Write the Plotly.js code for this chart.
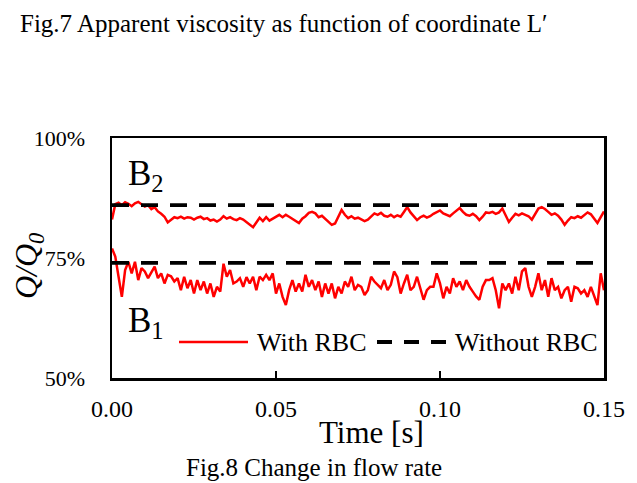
<!DOCTYPE html>
<html>
<head>
<meta charset="utf-8">
<script src="https://cdn.plot.ly/plotly-3.0.1.min.js"></script>
<style>html,body{margin:0;padding:0;background:#fff;}#chart{width:637px;height:483px;}</style>
</head>
<body>
<div id="chart"></div>
<script>
// Time sampling (s)
var timeStart = 0;
var timeStep = 0.001;

// Q/Q0 [%] with RBC, upper case B2
var withRbcB2 = [83.0,86.2,86.5,86.0,86.6,86.3,85.8,86.4,86.7,86.1,85.7,86.0,85.2,85.6,84.7,84.2,83.6,82.4,83.0,83.5,
83.3,83.6,83.2,83.5,83.4,83.0,83.4,83.6,83.1,83.3,82.8,83.0,82.6,83.0,83.7,83.2,83.5,83.1,82.9,83.3,
83.0,82.5,82.0,81.4,82.4,83.4,82.7,83.5,82.8,83.2,83.6,84.0,83.5,84.0,83.6,83.2,82.8,82.3,83.2,83.7,
84.4,84.6,84.3,83.5,83.8,83.2,82.6,81.9,82.2,83.6,85.0,84.0,83.3,83.7,83.2,83.4,83.1,82.7,83.0,83.6,
84.3,84.0,84.4,83.8,83.6,84.0,83.5,83.9,83.6,84.6,85.6,84.5,83.6,82.9,83.5,83.8,83.4,83.7,84.2,84.5,
84.9,84.3,84.0,83.7,84.3,84.8,85.4,84.6,84.0,83.8,84.2,83.7,82.9,83.6,84.5,84.4,84.6,84.2,84.5,85.3,
84.0,82.5,83.4,84.2,83.9,84.3,84.0,83.7,83.0,84.1,85.3,85.6,85.2,84.6,84.0,84.3,83.8,83.0,81.9,82.8,
83.5,83.3,83.7,83.4,84.0,84.5,84.1,83.3,82.3,83.5,84.7];

// Q/Q0 [%] with RBC, lower case B1
var withRbcB1 = [77.0,75.3,71.1,66.9,72.5,74.2,71.8,74.2,70.4,72.9,72.2,70.8,72.0,73.2,70.8,71.8,69.7,71.5,71.2,70.1,
70.8,68.3,71.1,68.7,70.4,67.6,70.4,68.3,70.1,67.6,69.7,66.9,69.0,68.0,73.8,71.1,72.5,69.7,70.1,70.8,
69.0,71.0,69.7,71.1,68.3,71.1,70.4,71.5,70.4,71.8,67.6,69.7,66.9,65.2,68.3,70.4,68.0,69.7,68.0,71.5,
69.0,70.4,68.3,70.1,66.9,69.7,67.6,69.7,66.6,69.0,67.6,70.1,69.0,71.1,68.3,69.4,69.0,67.3,68.3,71.1,
70.1,69.4,68.7,70.4,68.3,69.4,72.2,71.0,67.6,69.7,71.5,68.3,69.0,71.1,68.7,66.3,68.3,69.0,69.0,71.8,
69.7,66.6,69.0,67.6,70.8,69.0,70.1,68.3,70.4,69.0,68.0,67.0,66.3,69.0,70.4,70.4,70.8,68.3,64.5,69.7,
68.3,69.7,67.6,71.1,68.3,72.2,72.9,69.0,66.9,69.0,71.8,68.3,70.4,66.9,70.8,68.3,69.0,66.6,68.3,69.0,
65.9,69.0,68.7,67.6,68.3,66.9,69.0,66.9,65.2,71.8,68.3];

// Q/Q0 [%] without RBC (constant levels for B2 and B1)
var withoutRbcLevels = [86, 74];
var timeRange = [0, 0.15];

// Tick labels
var xTickVals = [0, 0.05, 0.10, 0.15];
var xTickText = ['0.00', '0.05', '0.10', '0.15'];
var yTickVals = [50, 75, 100];
var yTickText = ['50%', '75%', '100%'];

var serif = 'Liberation Serif, Times New Roman, serif';

var noRbcX = [timeRange[0], timeRange[1], null, timeRange[0], timeRange[1]];
var noRbcY = [withoutRbcLevels[0], withoutRbcLevels[0], null, withoutRbcLevels[1], withoutRbcLevels[1]];

var traces = [
  {type:'scatter', mode:'lines', name:'With RBC', x0:timeStart, dx:timeStep, y:withRbcB2,
   line:{color:'#ff0000', width:2.5}, showlegend:false},
  {type:'scatter', mode:'lines', name:'With RBC', x0:timeStart, dx:timeStep, y:withRbcB1,
   line:{color:'#ff0000', width:2.5}, showlegend:false},
  {type:'scatter', mode:'lines', name:'Without RBC', x:noRbcX, y:noRbcY, connectgaps:false,
   line:{color:'#000000', width:3.8, dash:'17px,12px'}, showlegend:false}
];

var layout = {
  width:637, height:483,
  margin:{l:112, r:33, t:138, b:105},
  paper_bgcolor:'#ffffff', plot_bgcolor:'#ffffff',
  font:{family:serif, color:'#000'},
  title:{text:'Fig.7 Apparent viscosity as function of coordinate L\u2032',
         font:{family:serif, size:25, color:'#000'},
         x:20/637, xanchor:'left', xref:'container',
         y:1-23/483, yanchor:'middle', yref:'container'},
  showlegend:false,
  xaxis:{range:timeRange, tickmode:'array', tickvals:xTickVals, ticktext:xTickText,
         ticks:'inside', ticklen:7, tickwidth:1.5, tickcolor:'#000',
         showline:true, mirror:true, linewidth:2.5, linecolor:'#000',
         showgrid:false, zeroline:false, ticklabelstandoff:8,
         tickfont:{family:serif, size:24, color:'#000'}},
  yaxis:{range:[50,100], tickmode:'array', tickvals:yTickVals, ticktext:yTickText,
         ticks:'', showline:true, mirror:true, linewidth:2.5, linecolor:'#000',
         showgrid:false, zeroline:false, ticklabelstandoff:20,
         tickfont:{family:serif, size:22, color:'#000'}},
  shapes:[
    {type:'line', xref:'paper', yref:'paper', x0:(179-112)/492, x1:(248-112)/492, y0:0.15, y1:0.15,
     line:{color:'#ff0000', width:2.5}},
    {type:'line', xref:'paper', yref:'paper', x0:(377-112)/492, x1:(448-112)/492, y0:0.15, y1:0.15,
     line:{color:'#000000', width:3.8, dash:'15px,12px'}}
  ],
  annotations:[
    {text:'With RBC', xref:'paper', yref:'paper', x:(255-112)/492, y:0.15, xanchor:'left', yanchor:'middle',
     showarrow:false, font:{family:serif, size:26, color:'#000'}},
    {text:'Without RBC', xref:'paper', yref:'paper', x:(453-112)/492, y:0.15, xanchor:'left', yanchor:'middle',
     showarrow:false, font:{family:serif, size:26, color:'#000'}},
    {text:'B<sub>2</sub>', xref:'paper', yref:'paper', x:(126-112)/492, y:(378-175)/240, xanchor:'left', yanchor:'middle',
     showarrow:false, font:{family:serif, size:35, color:'#000'}},
    {text:'B<sub>1</sub>', xref:'paper', yref:'paper', x:(126-112)/492, y:(378-322)/240, xanchor:'left', yanchor:'middle',
     showarrow:false, font:{family:serif, size:35, color:'#000'}},
    {text:'<i>Q</i><i>/</i><i>Q</i><sub><i>0</i></sub>', xref:'paper', yref:'paper', x:(28-112)/492, y:(378-266)/240,
     xanchor:'center', yanchor:'middle', textangle:-90,
     showarrow:false, font:{family:serif, size:32, color:'#000'}},
    {text:'Time [s]', xref:'paper', yref:'paper', x:(371-112)/492, y:(378-432)/240, xanchor:'center', yanchor:'middle',
     showarrow:false, font:{family:serif, size:31, color:'#000'}},
    {text:'Fig.8 Change in flow rate', xref:'paper', yref:'paper', x:(314-112)/492, y:(378-467)/240, xanchor:'center', yanchor:'middle',
     showarrow:false, font:{family:serif, size:25, color:'#000'}}
  ]
};

Plotly.newPlot('chart', traces, layout, {displayModeBar:false, staticPlot:true});
</script>
</body>
</html>
